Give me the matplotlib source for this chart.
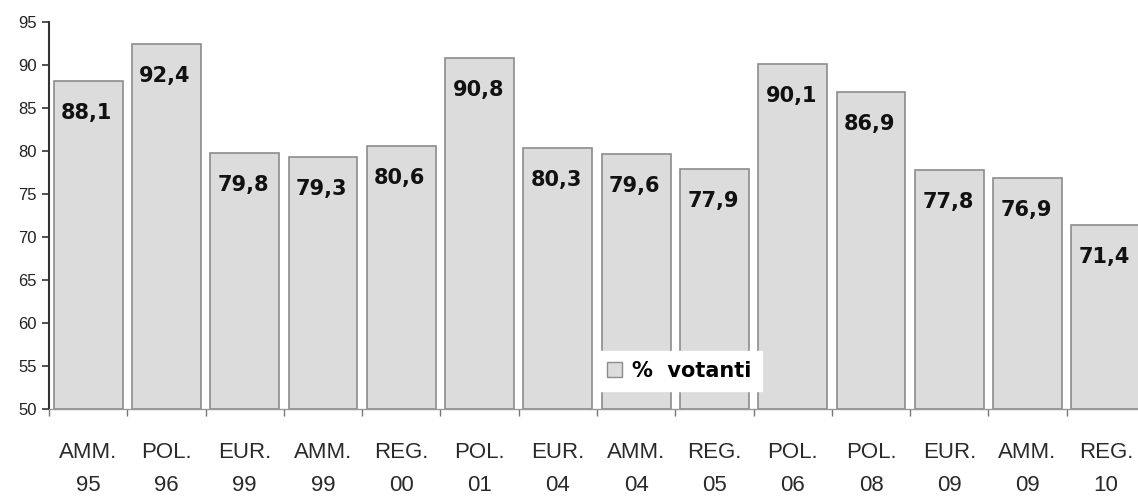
import numpy as np
from matplotlib import pyplot as plt
from matplotlib.patches import Patch

elezioni = ["AMM.", "POL.", "EUR.", "AMM.", "REG.", "POL.", "EUR.",
            "AMM.", "REG.", "POL.", "POL.", "EUR.", "AMM.", "REG."]
anni = ["95", "96", "99", "99", "00", "01", "04",
        "04", "05", "06", "08", "09", "09", "10"]
votanti = [88.1, 92.4, 79.8, 79.3, 80.6, 90.8, 80.3,
           79.6, 77.9, 90.1, 86.9, 77.8, 76.9, 71.4]

fig = plt.figure(figsize=(11.38, 4.97), dpi=100)
ax = fig.add_axes([49/1138, 1 - 409/497, 1096/1138, (409 - 22)/497])

x = np.arange(len(votanti))
bars = ax.bar(x, np.array(votanti) - 50, bottom=50, width=0.88,
              color="#dcdcdc", edgecolor="#8c8c8c", linewidth=1.2)

for xi, v in zip(x, votanti):
    ax.annotate(f"{v:.1f}".replace(".", ","), (xi, v), xytext=(-1, -23),
                textcoords="offset points", ha="center", va="center",
                fontsize=15, fontweight="bold", color="#111111")

ax.set_ylim(50, 95)
ax.set_xlim(-0.5, len(votanti) - 0.5)
ax.set_yticks(np.arange(50, 96, 5))
ax.set_yticklabels([str(t) for t in range(50, 96, 5)],
                   fontfamily="Liberation Sans")
ax.tick_params(axis="y", length=5, width=1.2, color="#333333",
               labelsize=12, labelcolor="#222222", pad=4)

labels = [f"{e}\n{a}" for e, a in zip(elezioni, anni)]
ax.set_xticks(x)
ax.set_xticklabels(labels, fontsize=16, color="#2a2a2a", linespacing=1.75,
                   fontfamily="Liberation Sans")
ax.tick_params(axis="x", which="major", length=0, pad=24)
ax.set_xticks(np.arange(-0.5, len(votanti), 1), minor=True)
ax.tick_params(axis="x", which="minor", length=5, width=1, color="#777777")

for s in ["top", "right"]:
    ax.spines[s].set_visible(False)
ax.spines["left"].set_color("#333333")
ax.spines["left"].set_linewidth(1.5)
ax.spines["bottom"].set_color("#999999")
ax.spines["bottom"].set_linewidth(1)

handle = Patch(facecolor="#dcdcdc", edgecolor="#8c8c8c", label="%  votanti")
leg = ax.legend(handles=[handle], loc="center", bbox_to_anchor=(0.575, 0.098),
                frameon=True, fancybox=False, framealpha=1,
                prop={"weight": "bold", "size": 15},
                handlelength=0.7, handleheight=0.7, handletextpad=0.5,
                borderpad=0.5, borderaxespad=0)
leg.get_frame().set_edgecolor("white")

plt.savefig("out.png", dpi=100)
